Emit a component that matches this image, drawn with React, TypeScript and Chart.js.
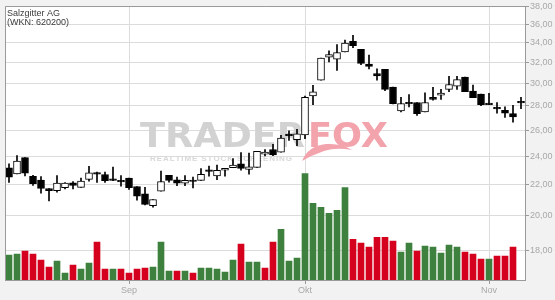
import React, { useEffect, useRef } from "react";
import { Chart, registerables } from "chart.js";
Chart.register(...registerables);

const FONT = "'Liberation Sans', Arial, sans-serif";
const WM_FONT = "'DejaVu Sans', 'Liberation Sans', Arial, sans-serif";

// Month of each trading day (category axis)
const months = [
  "Aug","Aug","Aug","Aug","Aug","Aug","Aug","Aug","Aug","Aug","Aug","Aug","Aug","Aug","Aug",
  "Sep","Sep","Sep","Sep","Sep","Sep","Sep","Sep","Sep","Sep","Sep","Sep","Sep","Sep","Sep","Sep","Sep","Sep","Sep","Sep","Sep","Sep",
  "Okt","Okt","Okt","Okt","Okt","Okt","Okt","Okt","Okt","Okt","Okt","Okt","Okt","Okt","Okt","Okt","Okt","Okt","Okt","Okt","Okt","Okt","Okt",
  "Nov","Nov","Nov","Nov","Nov",
];

const opens = [
  23.17, 22.74, 23.90, 22.57, 22.31, 21.74, 21.60, 21.79, 22.12, 21.81,
  22.36, 22.77, 22.69, 22.36, 22.23, 22.45, 21.87, 21.38, 20.62, 21.56,
  22.64, 22.33, 22.10, 22.26, 22.29, 22.96, 22.60, 23.00, 23.17, 23.45,
  23.05, 23.19, 24.15, 24.50, 24.30, 25.61, 25.26, 25.63, 28.87, 30.31,
  32.52, 32.31, 33.05, 34.15, 33.31, 31.85, 30.92, 31.32, 29.67, 27.58,
  28.24, 28.30, 27.49, 28.75, 28.94, 29.46, 29.76, 30.60, 29.31, 29.04,
  28.24, 27.87, 27.63, 27.35, 28.33,
];
const highs = [
  23.45, 24.05, 23.90, 22.64, 22.55, 21.74, 22.62, 22.14, 22.21, 22.45,
  23.26, 22.86, 22.86, 23.21, 22.62, 22.45, 21.87, 21.82, 21.02, 22.93,
  22.64, 22.52, 22.62, 22.52, 23.10, 23.29, 23.36, 23.12, 23.83, 24.27,
  24.24, 24.37, 24.49, 24.90, 25.58, 25.95, 26.07, 28.87, 29.82, 32.43,
  33.15, 33.80, 34.26, 34.78, 33.31, 32.72, 31.38, 31.32, 29.67, 28.75,
  29.00, 28.30, 29.16, 29.64, 29.46, 30.66, 30.66, 30.60, 29.85, 29.04,
  29.10, 28.30, 27.92, 28.06, 28.75,
];
const lows = [
  22.14, 22.74, 22.60, 21.95, 21.43, 20.93, 21.50, 21.71, 21.71, 21.81,
  22.24, 22.14, 22.14, 22.26, 21.90, 21.67, 20.98, 20.67, 20.53, 21.56,
  22.17, 21.93, 21.93, 21.78, 22.29, 22.57, 22.33, 22.57, 23.17, 23.00,
  22.71, 23.19, 24.02, 24.05, 24.30, 25.20, 24.80, 25.33, 28.12, 30.31,
  32.06, 31.23, 33.05, 33.48, 31.78, 31.38, 30.31, 29.34, 28.18, 27.49,
  27.92, 27.20, 27.49, 28.51, 28.57, 29.25, 29.46, 29.25, 28.72, 28.03,
  28.12, 27.38, 27.04, 26.64, 27.78,
];
const closes = [
  22.50, 23.64, 22.79, 22.07, 21.74, 21.60, 22.10, 22.10, 21.95, 22.24,
  22.81, 22.72, 22.26, 22.29, 22.18, 21.79, 21.24, 20.71, 21.02, 22.21,
  22.29, 22.10, 22.29, 22.21, 22.71, 22.91, 22.98, 23.12, 23.36, 23.12,
  23.24, 24.37, 24.30, 24.10, 25.38, 25.56, 25.70, 28.75, 29.25, 32.43,
  32.79, 32.98, 33.97, 33.70, 31.91, 31.60, 30.71, 29.46, 28.20, 28.21,
  28.18, 27.35, 28.30, 28.57, 29.13, 29.91, 30.36, 29.25, 28.72, 28.12,
  28.12, 27.75, 27.38, 27.07, 28.27,
];

// Volume (relative units) and colour flag per day
const volumes = [
  25, 26, 29, 26, 20, 13, 19, 7, 15, 11,
  17, 38, 11, 11, 11, 7, 11, 12, 13, 38,
  9, 9, 9, 7, 12, 12, 11, 8, 20, 36,
  18, 18, 12, 38, 51, 19, 22, 107, 77, 73,
  67, 70, 93, 41, 37, 33, 43, 43, 39, 28,
  37, 29, 34, 33, 27, 35, 33, 28, 26, 21,
  21, 24, 24, 33, null,
];
const volumeUp = [
  1, 1, 0, 0, 0, 0, 1, 1, 0, 1,
  1, 0, 0, 1, 0, 0, 0, 0, 1, 1,
  1, 0, 1, 0, 1, 1, 1, 1, 1, 0,
  1, 1, 0, 0, 1, 1, 1, 1, 1, 1,
  1, 1, 1, 0, 0, 0, 0, 0, 0, 1,
  1, 0, 1, 1, 1, 1, 1, 0, 0, 0,
  1, 0, 0, 0, 0,
];

const yTickValues = [18, 20, 22, 24, 26, 28, 30, 32, 34, 36, 38];
const Y_MIN = 16.42;
const Y_MAX = 38;
const VOL_MAX = 275;

const titleLines = ["Salzgitter AG", "(WKN: 620200)"];

const GREEN = "#3e803e";
const RED = "#d4001e";
const GRID = "#dcdcdc";
const AXIS = "#9a9a9a";
const LABEL = "#a8a8a8";

const chartPlugin = {
  id: "decor",
  beforeDraw(chart: any) {
    const { ctx, chartArea: a } = chart;
    ctx.save();
    ctx.fillStyle = "#f2f2f2";
    ctx.fillRect(0, 0, chart.width, chart.height);
    ctx.fillStyle = "#ffffff";
    ctx.fillRect(a.left, a.top, a.right - a.left, a.bottom - a.top);
    ctx.restore();
  },
  beforeDatasetsDraw(chart: any) {
    const { ctx } = chart;
    ctx.save();
    // TRADER
    const base = 147;
    ctx.font = `bold 34px ${WM_FONT}`;
    const wT = ctx.measureText("TRADER").width;
    const g = ctx.createLinearGradient(0, 122, 0, 147);
    g.addColorStop(0, "#d2d2d2");
    g.addColorStop(0.45, "#b4b4b4");
    g.addColorStop(0.55, "#9e9e9e");
    g.addColorStop(1, "#b0b0b0");
    ctx.fillStyle = g;
    ctx.save();
    ctx.translate(140, base);
    ctx.scale(165 / wT, 1);
    ctx.fillText("TRADER", 0, 0);
    ctx.restore();
    // FOX
    const wF = ctx.measureText("FOX").width;
    ctx.fillStyle = "#f2a3ac";
    ctx.save();
    ctx.translate(308, base);
    ctx.scale(80 / wF, 1);
    ctx.fillText("FOX", 0, 0);
    ctx.restore();
    // fox tail swoosh
    ctx.fillStyle = "#f2a3ac";
    ctx.beginPath();
    ctx.moveTo(302, 161);
    ctx.quadraticCurveTo(308, 146, 326, 144);
    ctx.quadraticCurveTo(342, 143, 352, 150);
    ctx.quadraticCurveTo(336, 147, 324, 151);
    ctx.quadraticCurveTo(312, 155, 302, 161);
    ctx.fill();
    // subtitle
    const sub = "REALTIME STOCK SCREENING";
    ctx.font = `bold 8px ${FONT}`;
    ctx.fillStyle = "#d8d8d8";
    const widths = sub.split("").map((c) => ctx.measureText(c).width);
    const total = widths.reduce((s, w) => s + w, 0);
    const gap = (142 - total) / (sub.length - 1);
    let x = 150;
    sub.split("").forEach((c, i) => {
      ctx.fillText(c, x, 161);
      x += widths[i] + gap;
    });
    ctx.restore();
  },
  afterDraw(chart: any) {
    const { ctx, chartArea: a } = chart;
    ctx.save();
    ctx.strokeStyle = AXIS;
    ctx.lineWidth = 1;
    ctx.beginPath();
    ctx.moveTo(Math.round(a.left) + 0.5, Math.round(a.bottom));
    ctx.lineTo(Math.round(a.left) + 0.5, Math.round(a.top) + 0.5);
    ctx.lineTo(Math.round(a.right), Math.round(a.top) + 0.5);
    ctx.stroke();
    ctx.fillStyle = "#3a3a3a";
    ctx.font = `9px ${FONT}`;
    ctx.textBaseline = "alphabetic";
    ctx.fillText(titleLines[0], 7, 15.5);
    ctx.fillText(titleLines[1], 7, 24.5);
    ctx.restore();
  },
};

export default function App() {
  const ref = useRef<HTMLCanvasElement>(null);
  useEffect(() => {
    const canvas = ref.current;
    if (!canvas) return;
    const labels = months.map((m, i) => `${m}-${i}`);
    const monthStarts = months
      .map((m, i) => (i > 0 && m !== months[i - 1] ? i : -1))
      .filter((i) => i >= 0);

    const bodies = opens.map((o, i) => [Math.min(o, closes[i]), Math.max(o, closes[i])]);
    const wicks = lows.map((l, i) => [l, highs[i]]);
    const bodyFill = opens.map((o, i) => (closes[i] > o ? "#ffffff" : "#000000"));

    const chart = new Chart(canvas, {
      type: "bar",
      data: {
        labels,
        datasets: [
          {
            label: "Body",
            data: bodies as any,
            yAxisID: "y",
            grouped: false,
            barThickness: 7,
            minBarLength: 1.5,
            backgroundColor: bodyFill,
            borderColor: "#000000",
            borderWidth: 1,
            borderSkipped: false,
          } as any,
          {
            label: "Wick",
            data: wicks as any,
            yAxisID: "y",
            grouped: false,
            barThickness: 1,
            backgroundColor: "#000000",
            borderWidth: 0,
          } as any,
          {
            label: "Volumen",
            data: volumes as any,
            yAxisID: "yv",
            grouped: false,
            barThickness: 6,
            backgroundColor: volumeUp.map((u) => (u ? GREEN : RED)),
            borderWidth: 0,
          } as any,
        ],
      },
      options: {
        animation: false,
        responsive: false,
        events: [],
        layout: { padding: { left: 5, top: 5, right: 0, bottom: 0 } },
        plugins: { legend: { display: false }, tooltip: { enabled: false } },
        scales: {
          x: {
            type: "category",
            offset: true,
            afterBuildTicks: (axis: any) => {
              axis.ticks = monthStarts.map((v) => ({ value: v }));
            },
            afterFit: (axis: any) => {
              axis.height = 20;
            },
            grid: { offset: false, color: GRID, tickLength: 4, tickColor: AXIS },
            border: { color: AXIS },
            ticks: {
              autoSkip: false,
              maxRotation: 0,
              padding: 1,
              color: LABEL,
              font: { size: 9, family: FONT },
              callback: (v: any) => months[v],
            },
          },
          y: {
            type: "logarithmic",
            position: "right",
            min: Y_MIN,
            max: Y_MAX,
            afterBuildTicks: (axis: any) => {
              axis.ticks = yTickValues.map((v) => ({ value: v }));
            },
            afterFit: (axis: any) => {
              axis.width = 30;
            },
            grid: { color: GRID, tickLength: 4, tickColor: AXIS },
            border: { color: AXIS },
            ticks: {
              padding: 1,
              color: LABEL,
              font: { size: 9, family: FONT },
              callback: (v: any) => Number(v).toFixed(2).replace(".", ","),
            },
          },
          yv: {
            type: "linear",
            display: false,
            min: 0,
            max: VOL_MAX,
          },
        },
      } as any,
      plugins: [chartPlugin],
    });
    return () => chart.destroy();
  }, []);

  return (
    <div
      style={{
        position: "absolute",
        left: 0,
        top: 0,
        width: 555,
        height: 300,
        background: "#f2f2f2",
      }}
    >
      <canvas ref={ref} width={555} height={300} style={{ display: "block" }} />
    </div>
  );
}
